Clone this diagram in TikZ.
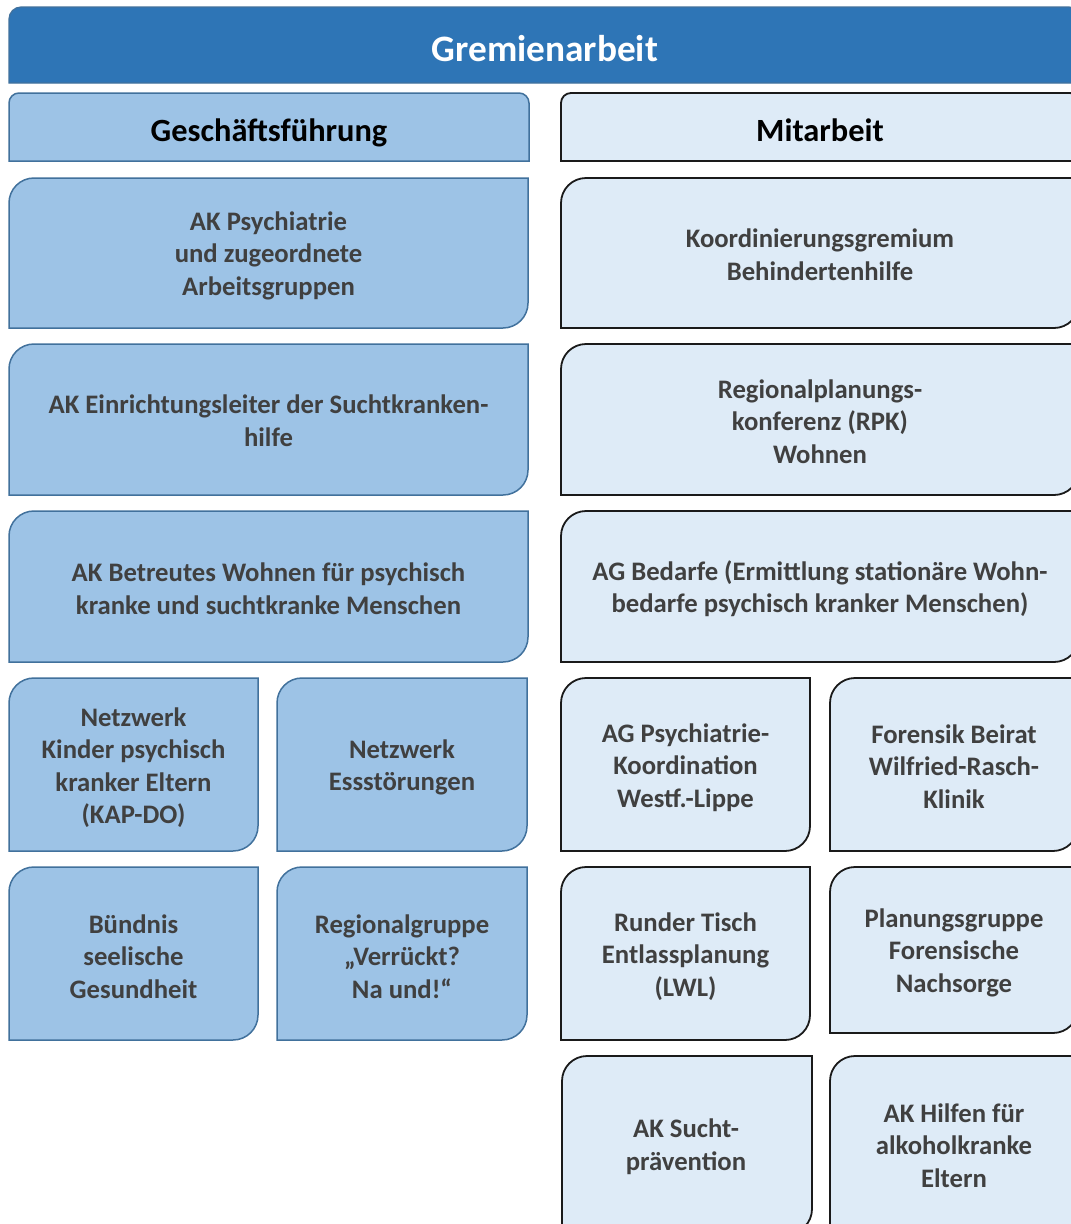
\documentclass[tikz,border=0pt]{standalone}
\usepackage{fontspec}
\setmainfont{Carlito}
\definecolor{headblue}{HTML}{2E75B6}
\definecolor{edgeblue}{HTML}{41719C}
\definecolor{midblue}{HTML}{9DC3E6}
\definecolor{paleblue}{HTML}{DEEBF7}
\definecolor{textgray}{HTML}{404040}
\definecolor{darkedge}{HTML}{1A1A1A}
\tikzset{
  leftbox/.style={fill=midblue, draw=edgeblue, line width=1.5pt},
  rightbox/.style={fill=paleblue, draw=darkedge, line width=1.8pt},
  titlebox/.style={fill=headblue, draw=edgeblue, line width=1.2pt},
  label/.style={align=center, text=textgray, inner sep=0pt, yshift=-2.5pt,
    font=\fontsize{26.7}{32.5}\selectfont\bfseries},
  headlabel/.style={align=center, text=black, inner sep=0pt,
    font=\fontsize{32.4}{36}\selectfont\bfseries},
  titlelabel/.style={align=center, text=white, inner sep=0pt,
    font=\fontsize{37.3}{40}\selectfont\bfseries}
}
% box with rounded top-left and bottom-right corners: style, x1, top, x2, bottom
\newcommand{\cutbox}[5]{%
  \path[#1] (#2,#5) -- (#2,#3+25) arc[start angle=180,end angle=270,radius=25]
    -- (#4,#3) -- (#4,#5-25) arc[start angle=0,end angle=90,radius=25] -- cycle;}
% box with both top corners rounded: style, x1, top, x2, bottom, radius
\newcommand{\tabbox}[6]{%
  \path[#1] (#2,#5) -- (#2,#3+#6) arc[start angle=180,end angle=270,radius=#6]
    -- (#4-#6,#3) arc[start angle=270,end angle=360,radius=#6] -- (#4,#5) -- cycle;}
\begin{document}
\begin{tikzpicture}[x=1pt,y=-1pt]
\useasboundingbox (0,0) rectangle (1071,1224);
\clip (0,0) rectangle (1071,1224);
\fill[white] (0,0) rectangle (1071,1224);

% heading bar
\tabbox{titlebox}{9}{7}{1081}{83}{12}
\node[titlelabel] (title) at (545,49) {Gremienarbeit};

% column heads
\tabbox{leftbox}{9}{93}{529}{161}{10}
\node[headlabel] (gf) at (269,133) {Geschäftsführung};
\tabbox{rightbox}{561}{93}{1080}{161}{10}
\node[headlabel] (mit) at (820,130) {Mitarbeit};

% left column: Geschäftsführung
\cutbox{leftbox}{9}{178}{528}{328}
\node[label] (l1) at (268.5,253) {AK Psychiatrie\\und zugeordnete\\Arbeitsgruppen};
\cutbox{leftbox}{9}{344}{528}{495}
\node[label] (l2) at (268.5,418) {AK Einrichtungsleiter der Suchtkranken-\\hilfe};
\cutbox{leftbox}{9}{511}{528}{662}
\node[label] (l3) at (268.5,586) {AK Betreutes Wohnen für psychisch\\kranke und suchtkranke Menschen};
\cutbox{leftbox}{9}{678}{258}{851}
\node[label] (l4) at (133.5,765) {Netzwerk\\Kinder psychisch\\kranker Eltern\\(KAP-DO)};
\cutbox{leftbox}{277}{678}{527}{851}
\node[label] (l5) at (402,765) {Netzwerk\\Essstörungen};
\cutbox{leftbox}{9}{867}{258}{1040}
\node[label] (l6) at (133.5,954) {Bündnis\\seelische\\Gesundheit};
\cutbox{leftbox}{277}{867}{527}{1040}
\node[label] (l7) at (402,954) {Regionalgruppe\\„Verrückt?\\Na und!“};

% right column: Mitarbeit
\cutbox{rightbox}{561}{178}{1079}{328}
\node[label] (r1) at (820,252) {Koordinierungsgremium\\Behindertenhilfe};
\cutbox{rightbox}{561}{344}{1079}{495}
\node[label] (r2) at (820,419) {Regionalplanungs-\\konferenz (RPK)\\Wohnen};
\cutbox{rightbox}{561}{511}{1079}{662}
\node[label] (r3) at (820,586) {AG Bedarfe (Ermittlung stationäre Wohn-\\bedarfe psychisch kranker Menschen)};
\cutbox{rightbox}{561}{678}{810}{851}
\node[label] (r4) at (685.5,765) {AG Psychiatrie-\\Koordination\\Westf.-Lippe};
\cutbox{rightbox}{830}{678}{1078}{851}
\node[label] (r5) at (954,764) {Forensik Beirat\\Wilfried-Rasch-\\Klinik};
\cutbox{rightbox}{561}{867}{810}{1040}
\node[label] (r6) at (685.5,954) {Runder Tisch\\Entlassplanung\\(LWL)};
\cutbox{rightbox}{830}{867}{1078}{1033}
\node[label] (r7) at (954,950) {Planungsgruppe\\Forensische\\Nachsorge};
\cutbox{rightbox}{562}{1056}{812}{1234}
\node[label] (r8) at (686,1144) {AK Sucht-\\prävention};
\cutbox{rightbox}{830}{1056}{1078}{1234}
\node[label] (r9) at (954,1143) {AK Hilfen für\\alkoholkranke\\Eltern};
\end{tikzpicture}
\end{document}
